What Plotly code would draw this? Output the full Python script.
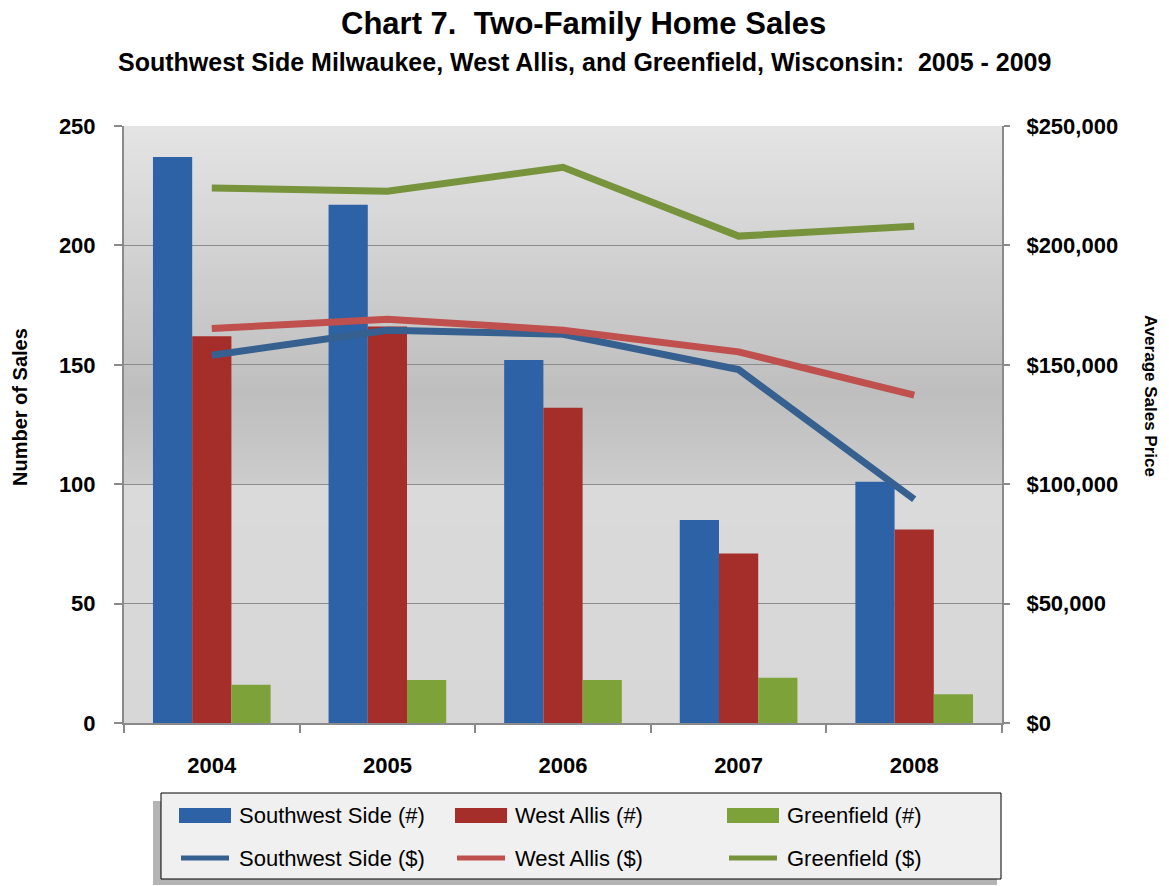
import plotly.graph_objects as go

# ---- data -------------------------------------------------------------
years = ["2004", "2005", "2006", "2007", "2008"]

sales_southwest = [237, 217, 152, 85, 101]
sales_west_allis = [162, 166, 132, 71, 81]
sales_greenfield = [16, 18, 18, 19, 12]

price_southwest = [154000, 164500, 162800, 148000, 93700]
price_west_allis = [165200, 169100, 164500, 155400, 137300]
price_greenfield = [224000, 222700, 232700, 203900, 208000]

count_ticks = [0, 50, 100, 150, 200, 250]
price_ticks = [0, 50000, 100000, 150000, 200000, 250000]

# ---- styling ----------------------------------------------------------
W, H = 1169, 886
L, R, T, B = 124, 167, 126, 163
PW, PH = W - L - R, H - T - B

SANS = "Liberation Sans, Arial, sans-serif"

bar_colors = ["#2e62a6", "#a52e2b", "#7ea23a"]
line_colors = ["#36608f", "#c0504d", "#77933c"]


def px_x(px):
    return (px - L) / PW


def px_y(py):
    return (H - B - py) / PH


fig = go.Figure()

bar_sets = [
    ("Southwest Side (#)", sales_southwest),
    ("West Allis (#)", sales_west_allis),
    ("Greenfield (#)", sales_greenfield),
]
for (name, vals), col in zip(bar_sets, bar_colors):
    fig.add_trace(go.Bar(
        x=years, y=vals, name=name, marker=dict(color=col, line=dict(width=0)),
        showlegend=False,
    ))

line_sets = [
    ("Southwest Side ($)", price_southwest),
    ("West Allis ($)", price_west_allis),
    ("Greenfield ($)", price_greenfield),
]
for (name, vals), col in zip(line_sets, line_colors):
    fig.add_trace(go.Scatter(
        x=years, y=vals, name=name, mode="lines", yaxis="y2",
        line=dict(color=col, width=7), showlegend=False,
    ))

# ---- plot-area background: vertical grey gradient in bands -------------
def shade(v):
    if v < 100:
        stops = [(0, 215), (100, 218)]
    else:
        stops = [(100, 204), (138, 190), (165, 199), (200, 211), (250, 228)]
    for (a, ca), (b, cb) in zip(stops[:-1], stops[1:]):
        if a <= v <= b:
            return round(ca + (cb - ca) * (v - a) / (b - a))
    return stops[-1][1]


shapes = []
step = 2.5
v = 0.0
while v < 250:
    g = shade(v + step / 2)
    shapes.append(dict(
        type="rect", xref="paper", yref="y", x0=0, x1=1, y0=v, y1=min(v + step + 0.6, 250),
        fillcolor=f"rgb({g},{g},{g})", line=dict(width=0), layer="below",
    ))
    v += step

# ---- legend box drawn as shapes + text ---------------------------------
shapes.append(dict(type="rect", xref="paper", yref="paper",
                   x0=px_x(153), x1=px_x(997), y0=px_y(885), y1=px_y(801),
                   fillcolor="#b4b4b4", line=dict(width=0), layer="above"))
shapes.append(dict(type="rect", xref="paper", yref="paper",
                   x0=px_x(161), x1=px_x(1001), y0=px_y(879), y1=px_y(793),
                   fillcolor="#f0f0f0", line=dict(color="#000000", width=1), layer="above"))

annotations = []
col_x = [179, 455, 727]
row1_y, row2_y = 815.5, 858
for cx, (name, _), col in zip(col_x, bar_sets, bar_colors):
    shapes.append(dict(type="rect", xref="paper", yref="paper",
                       x0=px_x(cx), x1=px_x(cx + 52), y0=px_y(row1_y + 7.5), y1=px_y(row1_y - 7.5),
                       fillcolor=col, line=dict(width=0), layer="above"))
    annotations.append(dict(text=name, xref="paper", yref="paper", x=px_x(cx + 58), y=px_y(row1_y),
                            xanchor="left", yanchor="middle", showarrow=False,
                            font=dict(family=SANS, size=22, color="#000000")))
for cx, (name, _), col in zip(col_x, line_sets, line_colors):
    shapes.append(dict(type="line", xref="paper", yref="paper",
                       x0=px_x(cx + 2), x1=px_x(cx + 50), y0=px_y(row2_y), y1=px_y(row2_y),
                       line=dict(color=col, width=5), layer="above"))
    annotations.append(dict(text=name, xref="paper", yref="paper", x=px_x(cx + 58), y=px_y(row2_y),
                            xanchor="left", yanchor="middle", showarrow=False,
                            font=dict(family=SANS, size=22, color="#000000")))

# ---- titles -----------------------------------------------------------
annotations.append(dict(text="Chart 7. \u00a0Two-Family Home Sales", xref="paper", yref="paper",
                        x=px_x(583), y=px_y(23), xanchor="center", yanchor="middle", showarrow=False,
                        font=dict(family=SANS, size=31, color="#000000", weight="bold")))
annotations.append(dict(text="Southwest Side Milwaukee, West Allis, and Greenfield, Wisconsin: \u00a02005 - 2009",
                        xref="paper", yref="paper",
                        x=px_x(584), y=px_y(62), xanchor="center", yanchor="middle", showarrow=False,
                        font=dict(family=SANS, size=25, color="#000000", weight="bold")))
annotations.append(dict(text="Number of Sales", xref="paper", yref="paper",
                        x=px_x(20), y=px_y(407), xanchor="center", yanchor="middle", textangle=-90,
                        showarrow=False,
                        font=dict(family=SANS, size=20, color="#000000", weight="bold")))
annotations.append(dict(text="Average Sales Price", xref="paper", yref="paper",
                        x=px_x(1151), y=px_y(396), xanchor="center", yanchor="middle", textangle=90,
                        showarrow=False,
                        font=dict(family=SANS, size=17, color="#000000", weight="bold")))

axis_grey = "#8a8a8a"
tick_font = dict(family=SANS, size=22, color="#000000", weight="bold")

fig.update_layout(
    width=W, height=H,
    margin=dict(l=L, r=R, t=T, b=B, pad=0),
    paper_bgcolor="#ffffff",
    plot_bgcolor="#d8d8d8",
    barmode="group",
    bargap=0.33,
    bargroupgap=0.0,
    showlegend=False,
    shapes=shapes,
    annotations=annotations,
    xaxis=dict(
        type="category", showline=True, linecolor=axis_grey, linewidth=2,
        ticks="outside", tickson="boundaries", ticklen=8, tickwidth=2, tickcolor=axis_grey,
        tickfont=tick_font, ticklabelstandoff=22, showgrid=False, fixedrange=True,
    ),
    yaxis=dict(
        range=[0, 250], tickvals=count_ticks, showgrid=True, gridcolor="#8c8c8c", gridwidth=1,
        showline=True, linecolor=axis_grey, linewidth=2, zeroline=False,
        ticks="outside", ticklen=8, tickwidth=2, tickcolor=axis_grey,
        tickfont=tick_font, ticklabelstandoff=14,
    ),
    yaxis2=dict(
        range=[0, 250000], tickvals=price_ticks, overlaying="y", side="right",
        tickformat="$,.0f", showgrid=False, zeroline=False,
        showline=True, linecolor=axis_grey, linewidth=2,
        ticks="outside", ticklen=6, tickwidth=2, tickcolor=axis_grey,
        tickfont=tick_font, ticklabelstandoff=12,
    ),
)

fig.write_html("out.html")
